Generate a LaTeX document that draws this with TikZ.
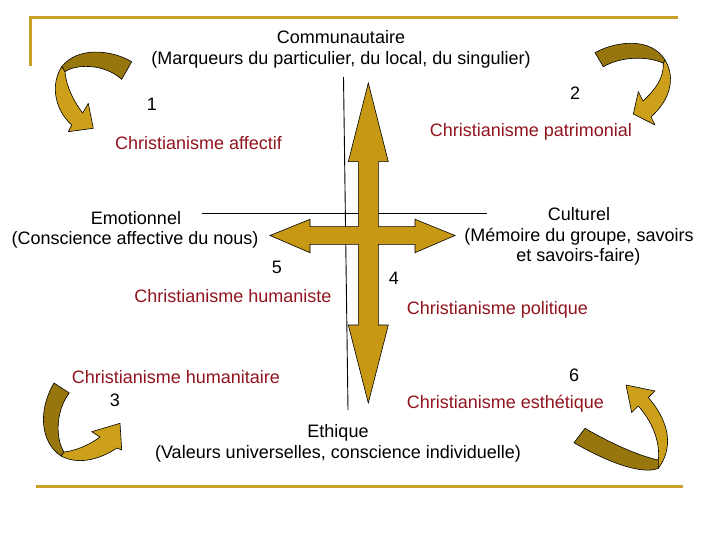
\documentclass[tikz,border=0pt]{standalone}
\usepackage{fontspec}
\setmainfont{Liberation Sans}
\definecolor{crossgold}{RGB}{198,152,20}
\definecolor{darkgold}{RGB}{152,118,14}
\definecolor{lightgold}{RGB}{204,160,26}
\definecolor{framegold}{RGB}{200,160,40}
\definecolor{txtred}{RGB}{145,20,30}
\begin{document}
\begin{tikzpicture}[x=1pt,y=-1pt,
  lbl/.style={anchor=base, inner sep=0pt, font=\fontsize{18}{22}\selectfont, text=black},
  redlbl/.style={lbl, text=txtred},
  framestyle/.style={draw=framegold, line width=3pt},
  ribbondark/.style={fill=darkgold, draw=black, line width=0.6pt, line join=round},
  ribbonlight/.style={fill=lightgold, draw=black, line width=0.6pt, line join=round},
  axisline/.style={draw=black, line width=0.9pt}]
\useasboundingbox (0,0) rectangle (720,540);
\fill[white] (0,0) rectangle (720,540);

% frame lines
\draw[framestyle] (30,66) -- (30,18) -- (678,18);
\draw[framestyle] (36,486) -- (683,486);

% thin axis lines
\draw[axisline] (343.5,77) -- (348,410);
\draw[axisline] (201.7,213.5) -- (487,213.5);

% central cross double arrows
\draw[fill=crossgold, draw=black, line width=0.6pt, line join=miter]
  (368.3,83) -- (388.3,161.7) -- (378.3,161.7) -- (378.3,226.7) -- (415,226.7)
  -- (415,219.3) -- (455,235.5) -- (415,252.7) -- (415,244.3) -- (378.3,244.3)
  -- (378.3,325) -- (388.3,325) -- (368.3,403) -- (348.3,325) -- (358.3,325)
  -- (358.3,244.3) -- (310,244.3) -- (310,252.7) -- (270,235.5) -- (310,219.3)
  -- (310,226.7) -- (358.3,226.7) -- (358.3,161.7) -- (348.3,161.7) -- cycle;

% top-left curved arrow
\draw[ribbondark] (131.7,61.7) .. controls (112,50) and (78,46) .. (61.7,66.7)
  -- (65,71.7) .. controls (74,65) and (102,62) .. (121.7,79.3) -- cycle;
\draw[ribbonlight] (61.7,66.7) .. controls (50,85) and (55,110) .. (71.7,125)
  -- (68.3,131.7) -- (93.3,128.3) -- (88.3,103.3) -- (82.7,113)
  .. controls (74,102) and (66,86) .. (65,71.7) -- cycle;

% top-right curved arrow
\draw[ribbondark] (595,52.7) .. controls (618,40) and (652,38) .. (665,60)
  -- (663.3,63.3) .. controls (648,56) and (622,56) .. (603.3,66.7) -- cycle;
\draw[ribbonlight] (665,60) .. controls (676,78) and (670,100) .. (651,117)
  -- (655,125) -- (633.3,114) -- (638.3,91.7) -- (643,101)
  .. controls (655,90) and (664,78) .. (663.3,63.3) -- cycle;

% bottom-left curved arrow
\draw[ribbondark] (54,383) .. controls (38,410) and (40,442) .. (61,456)
  -- (64,452) .. controls (55,438) and (56,410) .. (69.3,393) -- cycle;
\draw[ribbonlight] (61,456) .. controls (80,466) and (102,458) .. (117,448)
  -- (121.7,450) -- (120,423.3) -- (91.7,431.7) -- (100,437)
  .. controls (88,446) and (74,451) .. (64,452) -- cycle;

% bottom-right curved arrow
\draw[ribbondark] (585,428.3) .. controls (605,440) and (635,455) .. (658.3,460)
  -- (658.3,468.3) .. controls (640,476) and (600,458) .. (574,442.7) -- cycle;
\draw[ribbonlight] (658.3,468.3) .. controls (672,450) and (672,425) .. (648.3,397.5)
  -- (655,391) -- (626,385) -- (631.7,412.5) -- (638.3,406)
  .. controls (655,425) and (660,445) .. (658.3,460) -- cycle;

% texts
\node[lbl] (comm) at (341,44) {Communautaire};
\node[lbl] (commsub) at (341,65) {(Marqueurs du particulier, du local, du singulier)};
\node[lbl] (n2) at (575,100) {2};
\node[lbl] (n1) at (152,111) {1};
\node[redlbl] (patr) at (531,137) {Christianisme patrimonial};
\node[redlbl] (affe) at (198.5,150) {Christianisme affectif};
\node[lbl] (emo) at (136,225) {Emotionnel};
\node[lbl] (emosub) at (135,244) {(Conscience affective du nous)};
\node[lbl] (cult) at (579,220.5) {Culturel};
\node[lbl] (cultsub) at (579,241.5) {(Mémoire du groupe, savoirs};
\node[lbl] (cultsubb) at (578.5,261) {et savoirs-faire)};
\node[lbl] (n5) at (277,273) {5};
\node[lbl] (n4) at (394,284) {4};
\node[redlbl] (huma) at (233,302) {Christianisme humaniste};
\node[redlbl] (poli) at (497.5,314) {Christianisme politique};
\node[redlbl] (humt) at (176,383) {Christianisme humanitaire};
\node[lbl] (n3) at (115,406) {3};
\node[lbl] (n6) at (574,381) {6};
\node[redlbl] (esth) at (505.5,408) {Christianisme esthétique};
\node[lbl] (eth) at (338,437) {Ethique};
\node[lbl] (ethsub) at (338,458) {(Valeurs universelles, conscience individuelle)};
\end{tikzpicture}
\end{document}
